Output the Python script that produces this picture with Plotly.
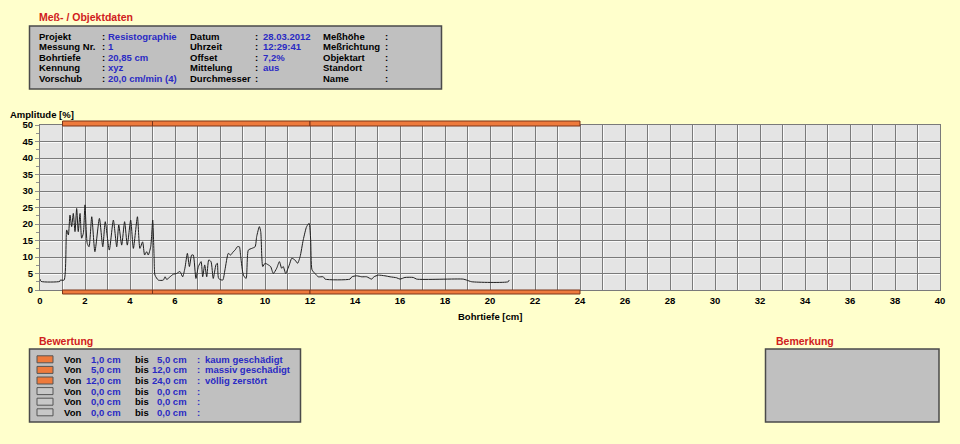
import plotly.graph_objects as go

# ---------------- data ----------------
depth_cm = [0.0, 0.05, 0.88, 0.9, 1.07, 1.185, 1.26, 1.333, 1.407, 1.48, 1.556, 1.63, 1.70, 1.78, 1.85,
            1.926, 2.0, 2.10, 2.18, 2.30, 2.44, 2.64, 2.79, 2.90, 3.08, 3.26, 3.41, 3.50, 3.63, 3.76,
            3.88, 4.03, 4.15, 4.33, 4.44, 4.56, 4.65, 4.74, 4.81, 4.92, 5.01, 5.07, 5.11, 5.26, 5.48,
            5.56, 5.63, 5.78, 5.93, 6.07, 6.22, 6.34, 6.44, 6.55, 6.64, 6.74, 6.81, 6.93, 7.04, 7.16,
            7.23, 7.32, 7.41, 7.50, 7.60, 7.70, 7.82, 7.88, 7.94, 8.12, 8.22, 8.37, 8.47, 8.59, 8.67,
            8.77, 8.86, 8.92, 9.04, 9.16, 9.26, 9.41, 9.56, 9.63, 9.75, 9.81, 9.90, 10.0, 10.15, 10.25,
            10.37, 10.52, 10.64, 10.74, 10.81, 10.92, 11.08, 11.19, 11.33, 11.45, 11.56, 11.70, 11.85,
            11.96, 12.03, 12.09, 12.22, 12.37, 12.59, 12.67, 13.78, 13.86, 14.07, 14.3, 14.52, 14.74,
            14.84, 15.04, 15.33, 15.56, 15.85, 16.0, 16.22, 16.59, 16.74, 18.81, 18.96, 19.19, 20.81, 20.85]
amplitude_pct = [3.3, 2.6, 2.6, 3.0, 3.0, 18.2, 16.7, 22.7, 19.2, 23.2, 17.7, 24.7, 17.7, 23.2, 15.7,
                 17.2, 25.8, 14.1, 13.1, 22.2, 11.6, 21.7, 13.1, 20.7, 12.1, 21.2, 13.1, 19.7, 13.6, 20.7,
                 13.6, 21.2, 12.6, 22.2, 12.6, 14.6, 10.6, 11.6, 10.6, 13.1, 21.2, 10.1, 4.5, 3.0, 3.0,
                 4.0, 3.2, 4.0, 4.8, 5.0, 5.6, 4.0, 6.6, 11.1, 7.1, 10.6, 10.6, 3.5, 7.1, 8.6,
                 4.0, 7.6, 4.0, 9.1, 8.6, 3.5, 7.6, 8.1, 3.5, 3.0, 6.1, 11.1, 10.6, 11.6, 12.1,
                 13.1, 13.1, 10.1, 4.5, 3.5, 12.1, 12.6, 13.1, 16.2, 19.2, 17.7, 7.1, 8.1, 7.6, 7.1,
                 5.0, 6.6, 8.6, 6.6, 7.1, 5.0, 7.6, 9.6, 9.1, 8.1, 10.1, 15.2, 19.2,
                 20.2, 15.2, 6.1, 5.0, 4.0, 4.0, 3.3, 3.3, 4.0, 4.3, 4.0, 4.0, 3.3,
                 4.0, 4.5, 4.3, 4.0, 3.7, 3.3, 3.8, 3.8, 3.3, 3.3, 3.0, 2.5, 2.5, 3.0]

x_tick_values = list(range(0, 41, 2))
y_tick_values = list(range(0, 51, 5))

header_labels_1 = ["Projekt", "Messung Nr.", "Bohrtiefe", "Kennung", "Vorschub"]
header_values_1 = ["Resistographie", "1", "20,85 cm", "xyz", "20,0 cm/min (4)"]
header_labels_2 = ["Datum", "Uhrzeit", "Offset", "Mittelung", "Durchmesser"]
header_values_2 = ["28.03.2012", "12:29:41", "7,2%", "aus", ""]
header_labels_3 = ["Meßhöhe", "Meßrichtung", "Objektart", "Standort", "Name"]
header_values_3 = ["", "", "", "", ""]

rating_from_cm = [1.0, 5.0, 12.0, 0.0, 0.0, 0.0]
rating_to_cm = [5.0, 12.0, 24.0, 0.0, 0.0, 0.0]
rating_text = ["kaum geschädigt", "massiv geschädigt", "völlig zerstört", "", "", ""]

# ---------------- style ----------------
BG = "#ffffcc"
PLOT_BG = "#e4e4e4"
GRID = "#7a7a7a"
BLUE = "#2a2ac4"
RED = "#d02020"
ORANGE = "#ee7a3c"
FONT = "Liberation Sans, Arial, sans-serif"
FS = 9.5

W, H = 960, 444
L, R, T, B = 40, 940, 125, 290


def px(xp):
    return (xp - L) / (R - L)


def py(yp):
    return (B - yp) / (B - T)


def fmt(v):
    return f"{v:.1f}".replace(".", ",") + " cm"


fig = go.Figure()
fig.add_trace(go.Scatter(x=depth_cm, y=amplitude_pct, mode="lines",
                         line=dict(color="#1e1e1e", width=1, shape="spline", smoothing=0.6),
                         hoverinfo="skip", showlegend=False))

shapes = []
annotations = []

# white emboss lines next to gridlines
for k in range(1, 40):
    shapes.append(dict(type="line", xref="x", yref="paper", xsizemode="pixel", xanchor=k,
                       x0=1, x1=1, y0=0, y1=1, line=dict(color="#fafafa", width=1), layer="between"))
for v in range(5, 50, 5):
    shapes.append(dict(type="line", xref="paper", yref="y", ysizemode="pixel", yanchor=v,
                       y0=-1, y1=-1, x0=0, x1=1, line=dict(color="#fafafa", width=1), layer="between"))

# rating zone bars at top and bottom
for a, b in zip(rating_from_cm, rating_to_cm):
    if b > a:
        for anchor, y0, y1 in [(1, -1, 4), (0, -4, 0)]:
            shapes.append(dict(type="rect", xref="x", yref="paper", ysizemode="pixel", yanchor=anchor,
                               x0=a, x1=b, y0=y0, y1=y1, fillcolor=ORANGE,
                               line=dict(color="#7a3418", width=1), layer="above"))


def box(x0, y0, x1, y1):
    shapes.append(dict(type="rect", xref="paper", yref="paper", x0=px(x0), x1=px(x1), y0=py(y1), y1=py(y0),
                       fillcolor="#c0c0c0", line=dict(color="#4a4a4a", width=1.5), layer="below"))


def text(x, y, s, color="black", anchor="left", size=FS):
    annotations.append(dict(xref="paper", yref="paper", x=px(x), y=py(y), text=s, showarrow=False,
                            xanchor=anchor, yanchor="middle",
                            font=dict(family=FONT, size=size, color=color, weight="bold")))


# Header box
text(37, 17.5, "Meß- / Objektdaten", RED, size=10.5)
box(29.5, 26, 441.5, 89)
row_y = [36.2, 46.7, 57.2, 67.7, 78.2]
cols = [(37, 100, 106, header_labels_1, header_values_1),
        (188, 253, 261, header_labels_2, header_values_2),
        (321, 383, 390, header_labels_3, header_values_3)]
for lx, cx, vx, labs, vals in cols:
    for yy, lab, val in zip(row_y, labs, vals):
        text(lx, yy, lab)
        text(cx, yy, ":")
        if val:
            text(vx, yy, val, BLUE)

# Bewertung box
text(37, 341, "Bewertung", RED, size=10.5)
box(29.5, 349, 300.5, 422)
for i, (a, b, d) in enumerate(zip(rating_from_cm, rating_to_cm, rating_text)):
    yy = 359.3 + i * 10.6
    used = b > a
    shapes.append(dict(type="rect", xref="paper", yref="paper", x0=px(37), x1=px(53),
                       y0=py(yy + 3.5), y1=py(yy - 3.5),
                       fillcolor=ORANGE if used else "#c8c8c8",
                       line=dict(color="#555555", width=1), layer="above"))
    text(62, yy, "Von")
    text(123, yy, fmt(a), BLUE, anchor="right")
    text(133, yy, "bis")
    text(189, yy, fmt(b), BLUE, anchor="right")
    text(195, yy, ":", BLUE)
    if d:
        text(203, yy, d, BLUE)

# Bemerkung box
text(774, 341, "Bemerkung", RED, size=10.5)
box(765.5, 349, 939, 422)

# axis titles
text(8, 114, "Amplitude [%]")
annotations.append(dict(xref="paper", yref="paper", x=0.5, y=py(316), text="Bohrtiefe [cm]", showarrow=False,
                        xanchor="center", yanchor="middle",
                        font=dict(family=FONT, size=FS, color="black", weight="bold")))

tickfont = dict(family=FONT, size=FS, color="black", weight="bold")
fig.update_layout(
    width=W, height=H, autosize=False,
    margin=dict(l=L, r=W - R, t=T, b=H - B, pad=0),
    paper_bgcolor=BG, plot_bgcolor=PLOT_BG,
    showlegend=False,
    shapes=shapes, annotations=annotations,
    xaxis=dict(range=[0, 40], tickmode="array", tickvals=x_tick_values, ticktext=[str(v) for v in x_tick_values],
               showgrid=True, gridcolor=GRID, gridwidth=1, zeroline=False,
               minor=dict(dtick=1, showgrid=True, gridcolor=GRID, gridwidth=1),
               ticks="outside", ticklen=2, tickcolor=BG, tickfont=tickfont,
               showline=True, linecolor=GRID, mirror=True, fixedrange=True),
    yaxis=dict(range=[0, 50], tickmode="array", tickvals=y_tick_values, ticktext=[str(v) for v in y_tick_values],
               showgrid=True, gridcolor=GRID, gridwidth=1, zeroline=False,
               minor=dict(dtick=2.5, ticks="outside", ticklen=3, tickcolor="#909090", showgrid=False),
               ticks="outside", ticklen=4, tickcolor="#909090", tickfont=tickfont,
               showline=True, linecolor=GRID, mirror=True, fixedrange=True),
)

fig.write_html("out.html", config={"displayModeBar": False},
               post_script="document.body.style.margin='0';")
